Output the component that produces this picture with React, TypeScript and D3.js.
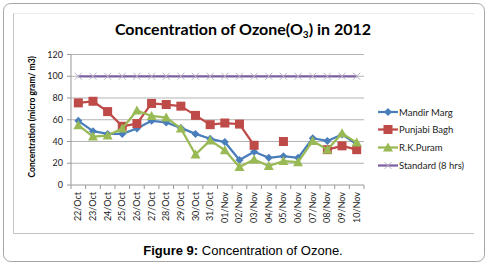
import React from "react";
import * as d3 from "d3";

const categories = ["22/Oct","23/Oct","24/Oct","25/Oct","26/Oct","27/Oct","28/Oct","29/Oct","30/Oct","31/Oct","01/Nov","02/Nov","03/Nov","04/Nov","05/Nov","06/Nov","07/Nov","08/Nov","09/Nov","10/Nov"];
const mandirMarg: (number | null)[] = [59, 49.5, 47, 47, 52, 59, 57.5, 52.5, 47, 42.5, 39.5, 23, 30.5, 25, 26.5, 25, 43, 40.5, 46.5, 37.5];
const punjabiBagh: (number | null)[] = [75.5, 77, 67.5, 54, 56.5, 75, 74, 72.5, 64, 55.5, 57, 56, 36.5, null, 40, null, null, 32.5, 36, 32.5];
const rkPuram: (number | null)[] = [55, 44.5, 45.5, 52, 68.5, 63.5, 62, 52, 28, 41, 32, 16.5, 23.5, 17.5, 22, 21, 40.5, 32.5, 47.5, 39];
const standard: (number | null)[] = [100, 100, 100, 100, 100, 100, 100, 100, 100, 100, 100, 100, 100, 100, 100, 100, 100, 100, 100, 100];
const yTicks = [0, 20, 40, 60, 80, 100, 120];

const seriesList = [
  { name: "Mandir Marg", values: mandirMarg, color: "#4a7ebb", marker: "diamond" },
  { name: "Punjabi Bagh", values: punjabiBagh, color: "#be4b48", marker: "square" },
  { name: "R.K.Puram", values: rkPuram, color: "#98b954", marker: "triangle" },
  { name: "Standard (8 hrs)", values: standard, color: "#7d60a0", marker: "x" },
];

const FONT = "Lato, 'Open Sans', sans-serif";

function Marker({ type, x, y, color }: { type: string; x: number; y: number; color: string }) {
  if (type === "diamond") {
    const s = 4;
    return <path d={`M${x},${y - s}L${x + s},${y}L${x},${y + s}L${x - s},${y}Z`} fill={color} />;
  }
  if (type === "square") {
    const s = 4.5;
    return <rect x={x - s} y={y - s} width={2 * s} height={2 * s} fill={color} />;
  }
  if (type === "triangle") {
    const s = 5;
    return <path d={`M${x},${y - s}L${x + s},${y + s * 0.8}L${x - s},${y + s * 0.8}Z`} fill={color} />;
  }
  const s = 3.5;
  return (
    <path d={`M${x - s},${y - s}L${x + s},${y + s}M${x - s},${y + s}L${x + s},${y - s}`} stroke="#b8b0c8" strokeWidth={1} fill="none" />
  );
}

export default function App() {
  const left = 71, right = 364, top = 54.5, bottom = 185;
  const x = d3.scaleBand<string>().domain(categories).range([left, right]);
  const y = d3.scaleLinear().domain([0, 120]).range([bottom, top]);
  const cx = (c: string) => (x(c) ?? 0) + x.bandwidth() / 2;

  const line = d3
    .line<number | null>()
    .defined((d) => d !== null)
    .x((_, i) => cx(categories[i]))
    .y((d) => y(d as number));

  const legendY = [112, 129.5, 147.5, 165.5];

  return (
    <svg width={488} height={265} style={{ position: "absolute", left: 0, top: 0, background: "#fff" }}>
      <rect x={3.5} y={3.5} width={481} height={258} rx={7} fill="#fff" stroke="#a6a6a6" />
      <path d="M13.5,13.5L474,13.5" stroke="#ececec" />
      <path d="M13.5,13.5L13.5,233.5L474,233.5" stroke="#c4c4c4" fill="none" />

      <text x={243} y={35} textAnchor="middle" fontFamily={FONT} fontWeight="bold" fontSize={16} fill="#000">
        Concentration of Ozone(O<tspan fontSize={10} dy={3}>3</tspan><tspan dy={-3}>) in 2012</tspan>
      </text>

      {yTicks.map((t) => (
        <g key={t}>
          {t > 0 && <line x1={left} x2={right} y1={y(t)} y2={y(t)} stroke="#b3b3b3" strokeWidth={1} />}
          <line x1={left - 4} x2={left} y1={y(t)} y2={y(t)} stroke="#999" />
          <text x={left - 8} y={y(t) + 3} textAnchor="end" fontFamily={FONT} fontSize={9} fill="#222">
            {t}
          </text>
        </g>
      ))}
      <line x1={left} x2={left} y1={top} y2={bottom} stroke="#999" />
      <line x1={left} x2={right} y1={bottom} y2={bottom} stroke="#999" />
      {categories.map((c, i) => (
        <line key={"t" + i} x1={(x(c) ?? 0)} x2={(x(c) ?? 0)} y1={bottom} y2={bottom + 4} stroke="#999" />
      ))}
      <line x1={right} x2={right} y1={bottom} y2={bottom + 4} stroke="#999" />
      {categories.map((c) => (
        <text
          key={c}
          transform={`translate(${cx(c) + 3},${bottom + 7}) rotate(-90)`}
          textAnchor="end"
          fontFamily={FONT}
          fontSize={9}
          fill="#222"
        >
          {c}
        </text>
      ))}

      <text
        transform={`translate(35,${(top + bottom) / 2 - 3}) rotate(-90)`}
        textAnchor="middle"
        fontFamily={FONT}
        fontWeight="bold"
        fontSize={8.5}
        fill="#000"
      >
        Concentration (micro gram/ m3)
      </text>

      {seriesList.map((s) => (
        <g key={s.name}>
          <path d={line(s.values) ?? ""} fill="none" stroke={s.color} strokeWidth={2.25} strokeLinejoin="round" />
          {s.values.map((v, i) =>
            v === null ? null : <Marker key={i} type={s.marker} x={cx(categories[i])} y={y(v)} color={s.color} />
          )}
        </g>
      ))}

      {seriesList.map((s, i) => (
        <g key={"lg" + s.name}>
          <line x1={378} x2={398} y1={legendY[i]} y2={legendY[i]} stroke={s.color} strokeWidth={2.25} />
          <Marker type={s.marker} x={388} y={legendY[i]} color={s.color} />
          <text x={399} y={legendY[i] + 3.5} fontFamily={FONT} fontSize={9.5} fill="#222">
            {s.name}
          </text>
        </g>
      ))}

      <text x={243} y={255} textAnchor="middle" fontFamily="'Liberation Sans', Arial, sans-serif" fontSize={13} fill="#000">
        <tspan fontWeight="bold">Figure 9:</tspan> Concentration of Ozone.
      </text>
    </svg>
  );
}
